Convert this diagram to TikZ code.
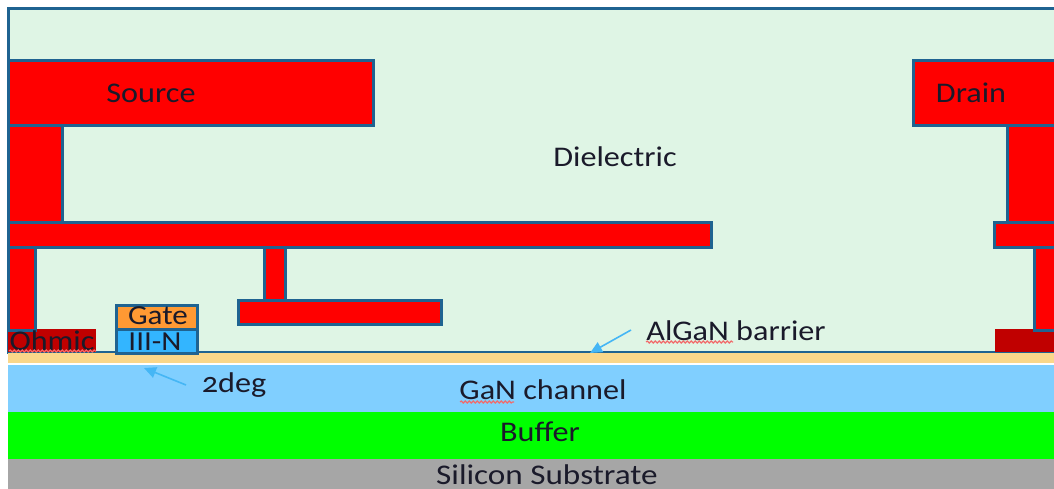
\documentclass[tikz,border=0pt]{standalone}
\usepackage{fontspec}
\setmainfont[Numbers=OldStyle,FakeStretch=1.13]{Carlito}
\usetikzlibrary{arrows.meta,decorations.pathmorphing}
\definecolor{edgeblue}{HTML}{1F6391}
\definecolor{dielfill}{HTML}{DFF5E5}
\definecolor{metalred}{HTML}{FF0000}
\definecolor{ohmicred}{HTML}{C00000}
\definecolor{gateorange}{HTML}{FF9933}
\definecolor{capblue}{HTML}{33B5FF}
\definecolor{barrier}{HTML}{FAD78A}
\definecolor{channel}{HTML}{80CFFF}
\definecolor{buffergreen}{HTML}{00FF00}
\definecolor{subgray}{HTML}{A6A6A6}
\definecolor{inkdark}{HTML}{1A1A2A}
\definecolor{arrowblue}{HTML}{45B6F5}
\definecolor{squigred}{HTML}{F26A6A}
\tikzset{
  layer/.style={fill=#1,draw=none},
  outlined/.style={fill=#1,draw=edgeblue,line width=3pt},
  lbl/.style={text=inkdark,font=\fontsize{28.5}{28.5}\selectfont,inner sep=0pt,anchor=center},
  smalllbl/.style={text=inkdark,font=\fontsize{27.5}{27.5}\selectfont,inner sep=0pt,anchor=center},
  callout/.style={draw=arrowblue,line width=1.6pt,-{Triangle[length=12pt,width=11pt]}},
  squiggle/.style={draw=squigred,line width=1.1pt,decorate,decoration={snake,amplitude=1pt,segment length=4pt}}
}
\begin{document}
\begin{tikzpicture}[x=1pt,y=-1pt]
\useasboundingbox (0,0) rectangle (1054,489);
\fill[white] (0,0) rectangle (1054,489);
% dielectric
\path[outlined=dielfill] (8,9) rectangle (1060,352);
% substrate stack
\path[layer=barrier] (8,353) rectangle (1054,363);
\path[layer=channel] (8,365) rectangle (1054,412);
\path[layer=buffergreen] (8,412) rectangle (1054,459);
\path[layer=subgray] (8,459) rectangle (1054,489);
% ohmics
\path[layer=ohmicred] (8,329) rectangle (96,352);
\path[layer=ohmicred] (995,329) rectangle (1054,352);
% left metal
\path[outlined=metalred] (8,247) rectangle (35,330);
\path[outlined=metalred] (264,247) rectangle (285,300);
\path[outlined=metalred] (8,126) rectangle (62,222);
\path[outlined=metalred] (8,222) rectangle (711,247);
\path[outlined=metalred] (8,61) rectangle (373,126);
\path[outlined=metalred] (238,300) rectangle (441,324);
% right metal
\path[outlined=metalred] (1034,247) rectangle (1060,330);
\path[outlined=metalred] (1007,126) rectangle (1060,222);
\path[outlined=metalred] (994,222) rectangle (1060,247);
\path[outlined=metalred] (913,61) rectangle (1060,126);
% gate stack
\path[outlined=gateorange] (116,305) rectangle (197,329);
\path[outlined=capblue] (116,329) rectangle (197,353);
% labels
\node[lbl] (source) at (151,93) {Source};
\node[lbl] (drain) at (971,93) {Drain};
\node[lbl] (dielectric) at (615,157) {Dielectric};
\node[smalllbl] (gate) at (158,316) {Gate};
\node[smalllbl] (iiin) at (155,342) {III-N};
\node[lbl] (ohmic) at (52,341) {Ohmic};
\node[lbl] (algan) at (736,331) {AlGaN barrier};
\node[lbl] (twodeg) at (234,385) {2deg};
\node[lbl] (gan) at (543,390) {GaN channel};
\node[lbl] (buffer) at (540,432) {Buffer};
\node[lbl,xscale=1.03] (silicon) at (547,475) {Silicon Substrate};
% spell-check squiggles
\draw[squiggle] (9,351) -- (96,351);
\draw[squiggle] (646,342) -- (733,342);
\draw[squiggle] (460,402) -- (514,402);
% callouts
\coordinate (a2deg) at (186,385);
\coordinate (t2deg) at (144,368);
\coordinate (abar) at (631,330);
\coordinate (tbar) at (590,353);
\draw[callout] (a2deg) -- (t2deg);
\draw[callout] (abar) -- (tbar);
\end{tikzpicture}
\end{document}
